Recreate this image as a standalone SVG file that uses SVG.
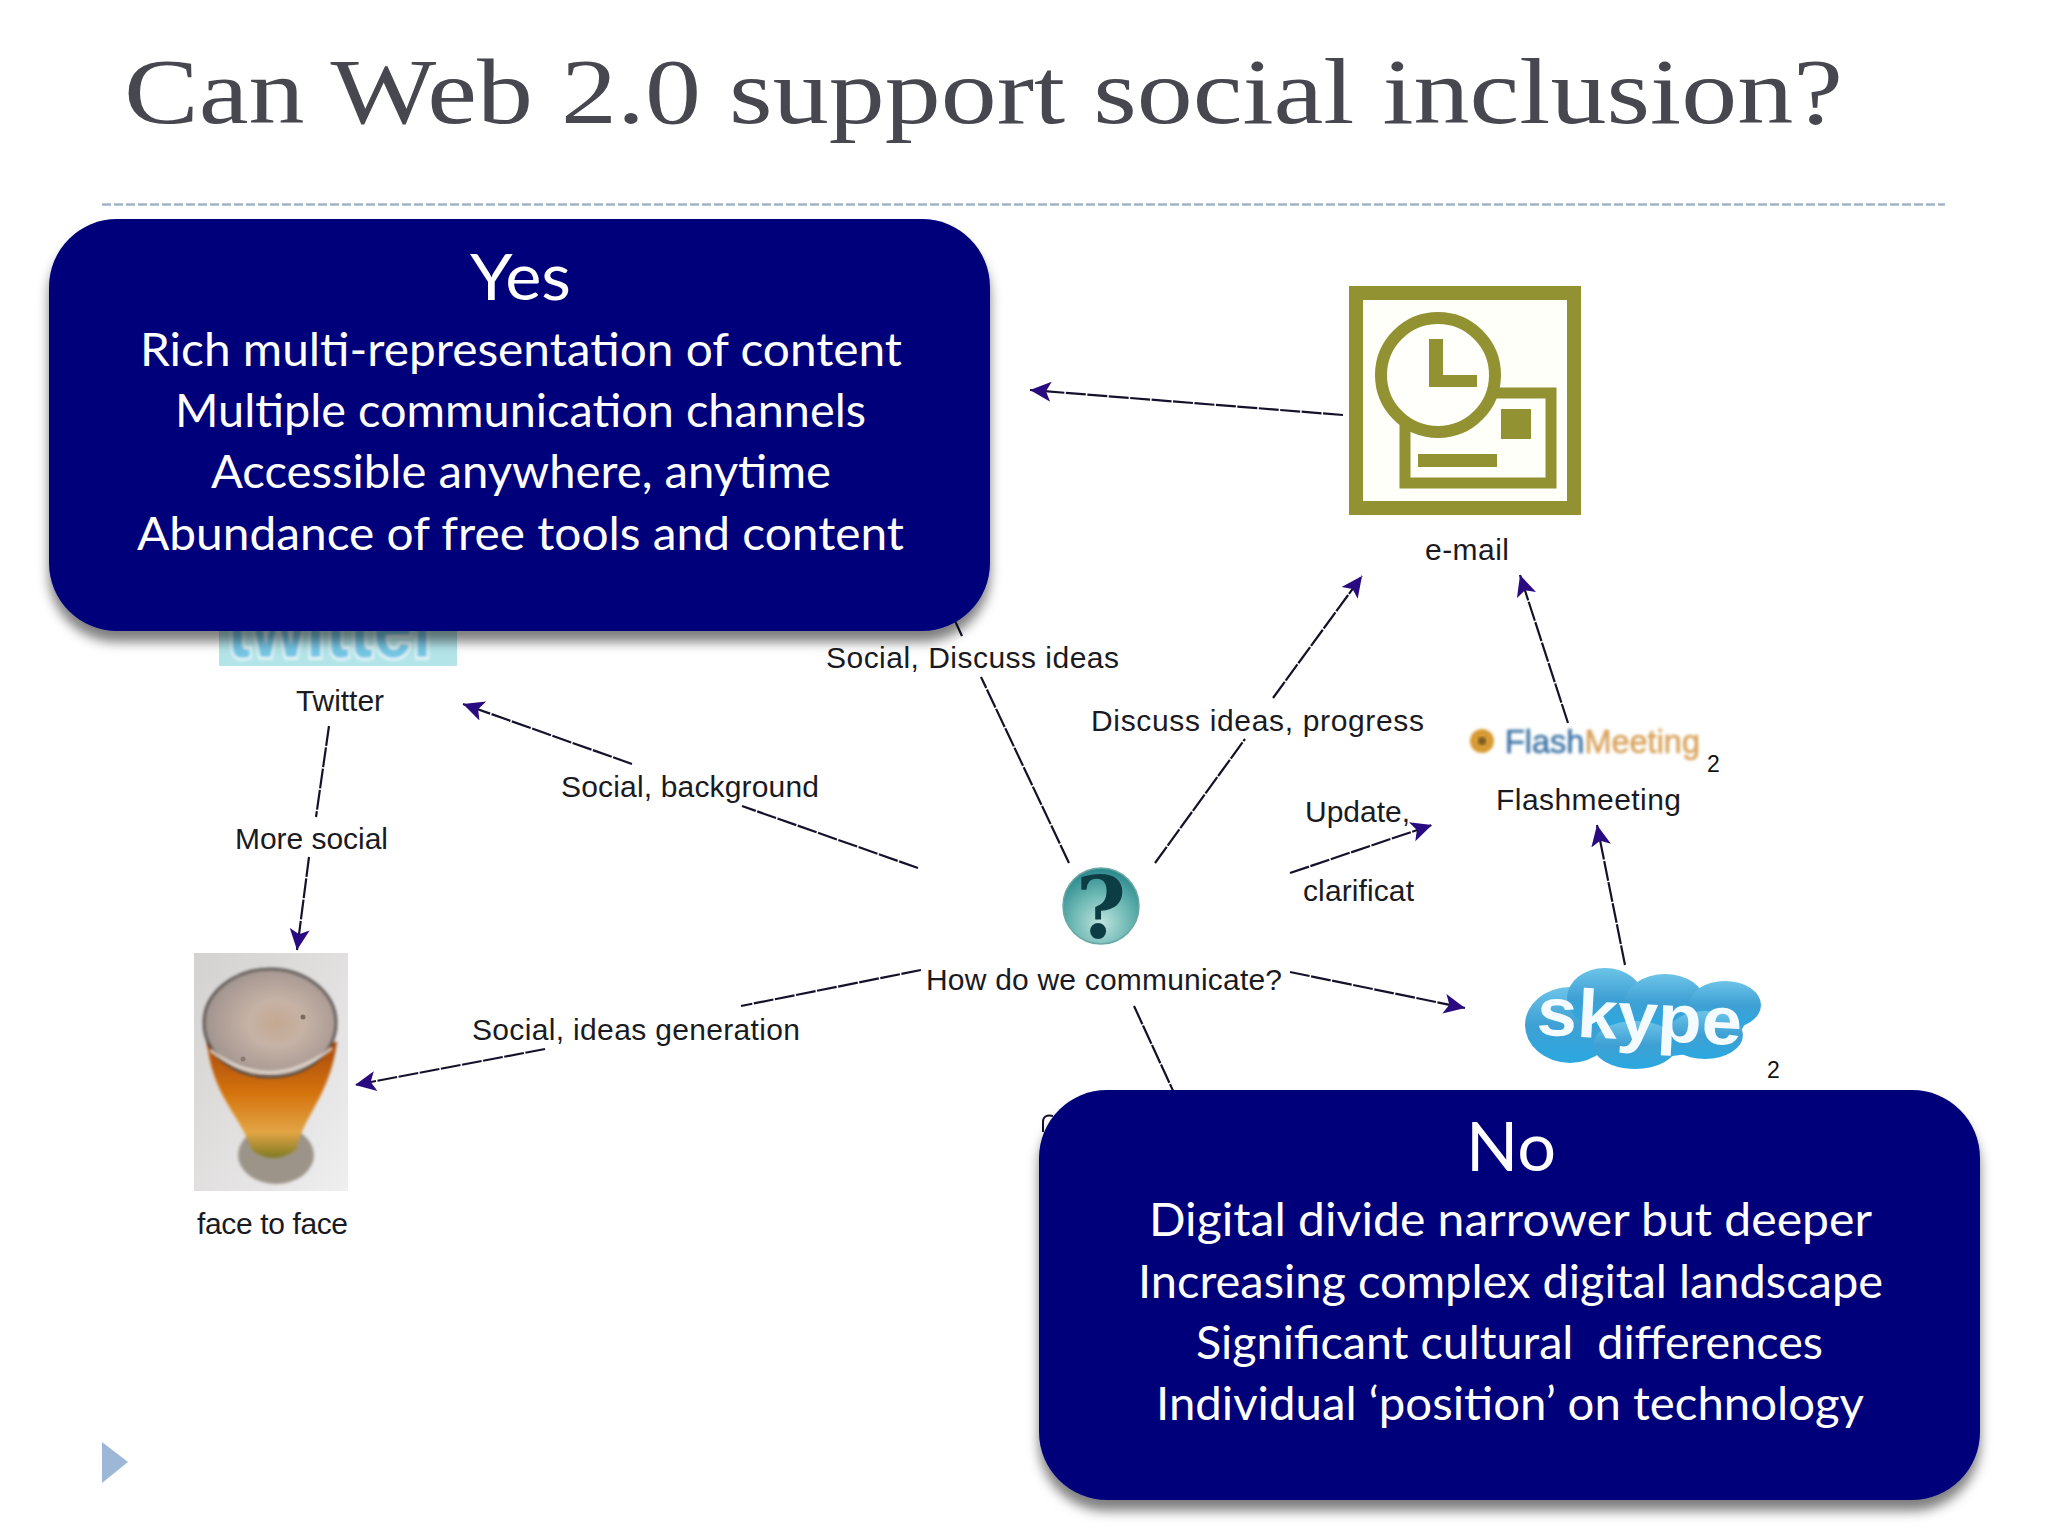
<svg xmlns="http://www.w3.org/2000/svg" width="2048" height="1536" viewBox="0 0 2048 1536">
<style>
.lbl{font-family:"Liberation Sans",Arial,sans-serif;font-size:30px;fill:#1a1a22}
.sub{font-family:"Liberation Sans",Arial,sans-serif;font-size:23px;fill:#111}
.conn{fill:none;stroke:#14122a;stroke-width:2.2;stroke-dasharray:20 1.5}
.box{fill:#00007a;filter:url(#shadow)}
.hd{font-family:Lato,"Open Sans",sans-serif;font-size:64px;fill:#fff}
.bd{font-family:Lato,"Open Sans",sans-serif;font-size:47px;fill:#fff}
.em{fill:#929233}
</style>
<defs>
<marker id="arrow" markerUnits="userSpaceOnUse" markerWidth="24" markerHeight="24" refX="21" refY="11" orient="auto">
<path d="M0 1L21 11L0 21L5 11Z" fill="#2a0a80"/>
</marker>
<filter id="shadow" x="-5%" y="-5%" width="110%" height="115%">
<feDropShadow dx="0" dy="11" stdDeviation="6" flood-color="#000" flood-opacity="0.5"/>
</filter>
<filter id="soft" x="-10%" y="-10%" width="120%" height="120%"><feGaussianBlur stdDeviation="1.4"/></filter>
<filter id="softer" x="-30%" y="-30%" width="160%" height="160%"><feGaussianBlur stdDeviation="3"/></filter>
<radialGradient id="q" cx="50%" cy="72%" r="68%">
<stop offset="0" stop-color="#bfe3de"/><stop offset="0.55" stop-color="#6db8b4"/><stop offset="1" stop-color="#2f8c90"/>
</radialGradient>
<linearGradient id="beer" x1="0" y1="0" x2="0" y2="1">
<stop offset="0" stop-color="#a8480f"/><stop offset="0.45" stop-color="#d5740f"/><stop offset="0.78" stop-color="#e2a444"/><stop offset="1" stop-color="#7d7a22"/>
</linearGradient>
<linearGradient id="beerbg" x1="0" y1="0" x2="1" y2="1">
<stop offset="0" stop-color="#d4d2d0"/><stop offset="0.6" stop-color="#e4e2e2"/><stop offset="1" stop-color="#efefef"/>
</linearGradient>
<radialGradient id="foam" cx="55%" cy="50%" r="60%">
<stop offset="0" stop-color="#c4a890"/><stop offset="0.35" stop-color="#c6b2a6"/><stop offset="1" stop-color="#9a8e8a"/>
</radialGradient>
<linearGradient id="sky" x1="0" y1="0" x2="0" y2="1">
<stop offset="0" stop-color="#6cc4e8"/><stop offset="0.5" stop-color="#3fa0d4"/><stop offset="1" stop-color="#2aa8e0"/>
</linearGradient>
</defs>
<rect width="2048" height="1536" fill="#fff"/>

<g id="header">
<text x="124" y="123" font-family="'Liberation Serif',serif" font-size="94" fill="#47474f" textLength="1719" lengthAdjust="spacingAndGlyphs">Can Web 2.0 support social inclusion?</text>
<line x1="102" y1="204.500" x2="1945" y2="204.500" stroke="#a3b4c6" stroke-width="2.500" stroke-dasharray="9 3"/>
<path d="M102 1442L128 1462L102 1483Z" fill="#9db8d6"/>
</g>

<g id="connectors">
<line class="conn" x1="1343" y1="415" x2="1030" y2="390" marker-end="url(#arrow)"/>
<line class="conn" x1="1568" y1="723" x2="1520" y2="575" marker-end="url(#arrow)"/>
<line class="conn" x1="1625" y1="965" x2="1597" y2="825" marker-end="url(#arrow)"/>
<line class="conn" x1="1290" y1="873" x2="1432" y2="825" marker-end="url(#arrow)"/>
<line class="conn" x1="1290" y1="972" x2="1465" y2="1008" marker-end="url(#arrow)"/>
<line class="conn" x1="1155" y1="863" x2="1245" y2="739"/>
<line class="conn" x1="1273" y1="698" x2="1362" y2="576" marker-end="url(#arrow)"/>
<line class="conn" x1="1069" y1="863" x2="981" y2="677"/>
<line class="conn" x1="962" y1="636" x2="950" y2="610"/>
<line class="conn" x1="918" y1="868" x2="742" y2="806"/>
<line class="conn" x1="632" y1="764" x2="463" y2="704" marker-end="url(#arrow)"/>
<line class="conn" x1="329" y1="726" x2="316" y2="817"/>
<line class="conn" x1="309" y1="857" x2="297" y2="950" marker-end="url(#arrow)"/>
<line class="conn" x1="921" y1="970" x2="741" y2="1006"/>
<line class="conn" x1="545" y1="1049" x2="355" y2="1085" marker-end="url(#arrow)"/>
<line class="conn" x1="1134" y1="1006" x2="1175" y2="1095"/>
<path d="M1053 1116Q1043 1114 1043 1122L1043 1132" fill="none" stroke="#14122a" stroke-width="2"/>
</g>

<g id="node-email">
<rect x="1356" y="293" width="218" height="215" fill="#fffffa" stroke="#929233" stroke-width="14"/>
<rect x="1405" y="393" width="146" height="90" fill="#fffffa" stroke="#929233" stroke-width="11"/>
<rect class="em" x="1501" y="409" width="30" height="30"/>
<rect class="em" x="1418" y="454" width="79" height="13"/>
<circle cx="1438" cy="375" r="57" fill="#fffffc" stroke="#929233" stroke-width="12"/>
<path class="em" d="M1429 339H1443V375H1477V387H1429Z"/>
<text class="lbl" x="1425" y="560" textLength="84" lengthAdjust="spacing">e-mail</text>
</g>

<g id="node-flashmeeting">
<circle cx="1482" cy="741" r="12" fill="#d89a30" filter="url(#soft)"/>
<circle cx="1482" cy="741" r="4" fill="#7a5a20" filter="url(#soft)"/>
<text x="1505" y="753" font-family="'Liberation Sans',sans-serif" font-size="33" textLength="195" lengthAdjust="spacingAndGlyphs" stroke-width="0.6" filter="url(#soft)"><tspan fill="#3f75a4" stroke="#3f75a4">Flash</tspan><tspan fill="#d8a25a" stroke="#d8a25a">Meeting</tspan></text>
<text class="sub" x="1707" y="772">2</text>
<text class="lbl" x="1496" y="810" textLength="185" lengthAdjust="spacing">Flashmeeting</text>
</g>

<g id="node-skype">
<g fill="url(#sky)">
<ellipse cx="1640" cy="1020" rx="105" ry="38"/>
<ellipse cx="1570" cy="1025" rx="45" ry="38"/>
<ellipse cx="1605" cy="998" rx="38" ry="30"/>
<ellipse cx="1665" cy="1002" rx="40" ry="28"/>
<ellipse cx="1725" cy="1005" rx="36" ry="24"/>
<ellipse cx="1635" cy="1045" rx="42" ry="24"/>
<ellipse cx="1705" cy="1035" rx="38" ry="24"/>
</g>
<text x="1537" y="1040" font-family="'Liberation Sans',sans-serif" font-size="68" font-weight="bold" fill="#f4fbff" textLength="205" lengthAdjust="spacingAndGlyphs" transform="rotate(3 1640 1020)">skype</text>
<text class="sub" x="1767" y="1078">2</text>
</g>

<g id="node-question">
<circle cx="1101" cy="906" r="38" fill="url(#q)" stroke="#6aa8a4" stroke-width="1.500"/>
<text x="1101" y="938" text-anchor="middle" font-family="'DejaVu Serif',serif" font-size="86" font-weight="bold" fill="#0c3c44">?</text>
<text class="lbl" x="926" y="990" textLength="356" lengthAdjust="spacing">How do we communicate?</text>
</g>

<g id="node-twitter">
<rect x="219" y="600" width="238" height="66" fill="#b3e4e8"/>
<text x="227" y="657" font-family="'Liberation Sans',sans-serif" font-size="90" font-weight="bold" fill="#74c6e4" stroke="#eefbfc" stroke-width="5" paint-order="stroke" textLength="213" lengthAdjust="spacingAndGlyphs" filter="url(#soft)">twitter</text>
<text class="lbl" x="296" y="711" textLength="88" lengthAdjust="spacing">Twitter</text>
</g>

<g id="node-face">
<rect x="194" y="953" width="154" height="238" fill="url(#beerbg)"/>
<ellipse cx="276" cy="1155" rx="38" ry="29" fill="#9c9488" filter="url(#soft)"/>
<path d="M207 1042C212 1095 240 1115 252 1150Q272 1166 296 1150C304 1115 330 1095 337 1042Z" fill="url(#beer)" filter="url(#soft)"/>
<ellipse cx="270" cy="1023" rx="66" ry="54" fill="url(#foam)" stroke="#4a4442" stroke-width="2.500" filter="url(#soft)"/>
<path d="M210 1050Q270 1096 332 1048" fill="none" stroke="#efe4d8" stroke-width="3" opacity="0.85" filter="url(#soft)"/>
<circle cx="303" cy="1017" r="2.500" fill="#7a6a60"/>
<circle cx="243" cy="1059" r="2.500" fill="#8a7a70"/>
<text class="lbl" x="197" y="1234" textLength="151" lengthAdjust="spacing">face to face</text>
</g>

<g id="edge-labels">
<text class="lbl" x="826" y="668" textLength="293" lengthAdjust="spacing">Social, Discuss ideas</text>
<text class="lbl" x="1091" y="731" textLength="333" lengthAdjust="spacing">Discuss ideas, progress</text>
<text class="lbl" x="561" y="797" textLength="258" lengthAdjust="spacing">Social, background</text>
<text class="lbl" x="1305" y="822" textLength="105" lengthAdjust="spacing">Update,</text>
<text class="lbl" x="1303" y="901" textLength="111" lengthAdjust="spacing">clarificat</text>
<text class="lbl" x="235" y="849" textLength="153" lengthAdjust="spacing">More social</text>
<text class="lbl" x="472" y="1040" textLength="328" lengthAdjust="spacing">Social, ideas generation</text>
</g>

<g id="box-yes">
<rect class="box" x="49" y="219" width="941" height="412" rx="68" ry="68"/>
<text class="hd" x="470" y="300" textLength="101" lengthAdjust="spacingAndGlyphs">Yes</text>
<text class="bd" x="140" y="366" textLength="762" lengthAdjust="spacingAndGlyphs">Rich multi-representation of content</text>
<text class="bd" x="175" y="427" textLength="691" lengthAdjust="spacingAndGlyphs">Multiple communication channels</text>
<text class="bd" x="211" y="488" textLength="620" lengthAdjust="spacingAndGlyphs">Accessible anywhere, anytime</text>
<text class="bd" x="137" y="550" textLength="767" lengthAdjust="spacingAndGlyphs">Abundance of free tools and content</text>
</g>

<g id="box-no">
<rect class="box" x="1039" y="1090" width="941" height="410" rx="68" ry="68"/>
<text class="hd" x="1466" y="1171" textLength="90" lengthAdjust="spacingAndGlyphs" style="font-size:68px">No</text>
<text class="bd" x="1149" y="1236" textLength="723" lengthAdjust="spacingAndGlyphs">Digital divide narrower but deeper</text>
<text class="bd" x="1138" y="1298" textLength="745" lengthAdjust="spacingAndGlyphs">Increasing complex digital landscape</text>
<text class="bd" x="1196" y="1359" textLength="627" lengthAdjust="spacingAndGlyphs" xml:space="preserve">Significant cultural  differences</text>
<text class="bd" x="1156" y="1420" textLength="708" lengthAdjust="spacingAndGlyphs">Individual ‘position’ on technology</text>
</g>
</svg>
